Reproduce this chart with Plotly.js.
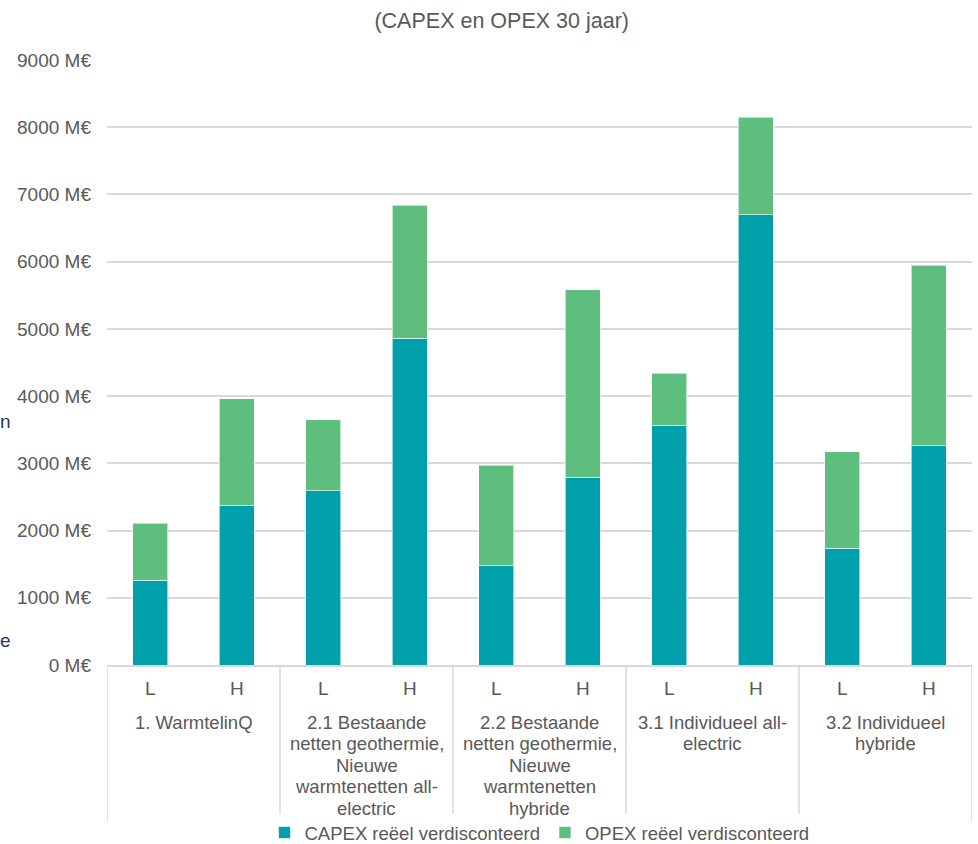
<!DOCTYPE html>
<html>
<head>
<meta charset="utf-8">
<script src="https://cdn.plot.ly/plotly-3.0.1.min.js"></script>
<style>html,body{margin:0;padding:0;background:#fff;}#chart{width:978px;height:844px;}</style>
</head>
<body>
<div id="chart"></div>
<script>
const groups = [
  ["1. WarmtelinQ"],
  ["2.1 Bestaande", "netten geothermie,", "Nieuwe", "warmtenetten all-", "electric"],
  ["2.2 Bestaande", "netten geothermie,", "Nieuwe", "warmtenetten", "hybride"],
  ["3.1 Individueel all-", "electric"],
  ["3.2 Individueel", "hybride"]
];
const variants = ["L", "H"];
const capex = [1260, 2380, 2590, 4860, 1480, 2790, 3570, 6700, 1740, 3260];
const opex  = [850, 1580, 1060, 1980, 1490, 2790, 770, 1450, 1430, 2690];

const keys = [], inner = [];
groups.forEach((g, gi) => variants.forEach(v => { keys.push(gi + "-" + v); inner.push(v); }));

const font = "Liberation Sans, Arial, sans-serif";
const grey = "#595959";
const lineCol = "#d9d9d9";

const traces = [
  {type: "bar", name: "CAPEX reëel verdisconteerd", x: keys, y: capex,
   marker: {color: "#009FAC", line: {color: "rgba(255,255,255,0.6)", width: 1}}},
  {type: "bar", name: "OPEX reëel verdisconteerd", x: keys, y: opex,
   marker: {color: "#5DBE7D", line: {color: "rgba(255,255,255,0.6)", width: 1}}}
];

const annotations = [];
groups.forEach((lines, gi) => {
  lines.forEach((ln, li) => {
    annotations.push({text: ln, xref: "x", yref: "paper", x: gi * variants.length + 0.5, y: 0,
      yanchor: "middle", xanchor: "center", yshift: -57 - li * 21.5, showarrow: false,
      font: {family: font, size: 18.5, color: grey}});
  });
});
annotations.push({text: "n", xref: "paper", yref: "paper", x: -0.1237, xanchor: "left", xshift: -2,
  y: 0.403, yanchor: "middle", showarrow: false, font: {family: font, size: 19, color: "#1F3864"}});
annotations.push({text: "e", xref: "paper", yref: "paper", x: -0.1237, xanchor: "left", xshift: -2,
  y: 0.041, yanchor: "middle", showarrow: false, font: {family: font, size: 19, color: "#1F3864"}});

const shapes = [];
for (let i = 0; i <= groups.length; i++) {
  shapes.push({type: "line", xref: "x", yref: "paper", x0: i * variants.length - 0.5, x1: i * variants.length - 0.5,
    y0: 0, y1: -0.2595, line: {color: lineCol, width: 1.5}});
}

const layout = {
  width: 978, height: 844,
  barmode: "stack", bargap: 0.6,
  margin: {l: 107, r: 6, t: 60, b: 179},
  paper_bgcolor: "#fff", plot_bgcolor: "#fff",
  font: {family: font, size: 19, color: grey},
  title: {text: "(CAPEX en OPEX 30 jaar)", x: 0.513, xanchor: "center", y: 0.976, yanchor: "middle",
          font: {family: font, size: 21.5, color: grey}},
  xaxis: {type: "category", tickvals: keys, ticktext: inner, range: [-0.5, keys.length - 0.5],
          showline: true, linecolor: lineCol, linewidth: 1.5,
          ticks: "outside", ticklen: 5, tickcolor: "rgba(0,0,0,0)",
          tickfont: {family: font, size: 19, color: grey}, showgrid: false},
  yaxis: {range: [0, 9000], dtick: 1000, ticksuffix: " M€", showgrid: true, gridcolor: lineCol,
          gridwidth: 1.5, zeroline: false, ticklabelstandoff: 15,
          tickfont: {family: font, size: 19, color: grey}},
  showlegend: true,
  legend: {orientation: "h", x: 0.5, xanchor: "center", xref: "paper", yref: "container",
           y: 0.013, yanchor: "middle", font: {family: font, size: 18.5, color: grey},
           itemwidth: 30, traceorder: "normal"},
  annotations: annotations,
  shapes: shapes
};

Plotly.newPlot("chart", traces, layout, {displayModeBar: false});
</script>
</body>
</html>
